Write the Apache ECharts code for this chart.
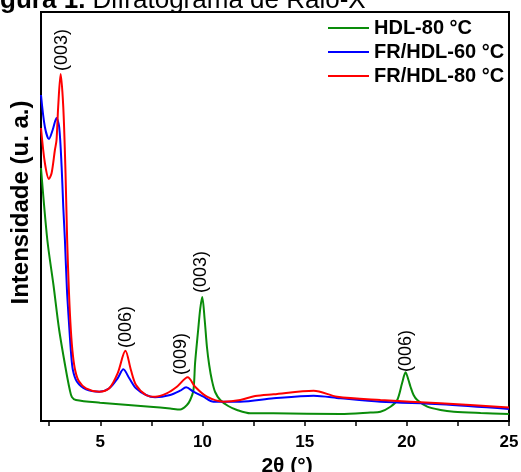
<!DOCTYPE html>
<html>
<head>
<meta charset="utf-8">
<script src="https://cdn.jsdelivr.net/npm/echarts@6/dist/echarts.min.js"></script>
<style>
html,body{margin:0;padding:0;background:#fff;}
#chart{width:521px;height:472px;}
</style>
</head>
<body>
<div id="chart"></div>
<script>
// ---- data ----
const seriesNames = ['HDL-80 °C', 'FR/HDL-60 °C', 'FR/HDL-80 °C'];

const hdl80X = [2.10, 2.41, 2.71, 2.99, 3.32, 3.51, 3.61, 3.81, 4.99, 7.44, 8.42, 8.91, 9.24, 9.40, 9.56, 9.64, 9.79, 9.89, 9.99, 10.11, 10.22, 10.33, 10.46, 10.62, 10.87, 11.26, 11.69, 12.34, 13.47, 16.75, 18.22, 18.71, 19.20, 19.53, 19.77, 19.94, 20.08, 20.18, 20.33, 20.51, 21.00, 21.65, 22.30, 23.61, 25.00];
const hdl80Y = [253, 181, 136, 91, 51, 31, 24, 21, 18.3, 14.3, 12.5, 11.5, 16, 21, 31, 58, 91, 112, 124, 101, 74, 56, 41, 29, 21, 15, 11, 7.7, 7.7, 7, 8.5, 9.3, 14.3, 21, 38, 48.7, 41, 34.3, 26, 21, 14.3, 11, 9.3, 8, 7];

const fr60X = [2.10, 2.29, 2.49, 2.67, 2.86, 2.99, 3.11, 3.19, 3.27, 3.37, 3.46, 3.57, 3.66, 3.86, 4.30, 4.95, 5.44, 5.85, 6.13, 6.42, 6.75, 7.24, 7.68, 8.42, 8.91, 9.20, 9.56, 10.05, 10.54, 11.85, 13.48, 15.44, 16.75, 18.71, 21.65, 25.00];
const fr60Y = [326, 294, 282, 291, 303, 294, 254, 214, 181, 131, 101, 68, 51, 39.3, 31.7, 29.3, 32.7, 42.7, 51.7, 42.7, 32.7, 26, 23.7, 26, 30.3, 33.7, 29.3, 24.3, 19.3, 19.3, 22.7, 25.3, 22.7, 19.3, 16.7, 12];

const fr80X = [2.10, 2.29, 2.49, 2.62, 2.78, 2.86, 2.94, 3.06, 3.19, 3.30, 3.38, 3.47, 3.56, 3.66, 3.78, 3.95, 4.30, 4.95, 5.44, 5.85, 6.23, 6.50, 6.75, 7.24, 7.68, 8.25, 8.75, 9.28, 9.64, 10.22, 11.03, 11.85, 12.58, 13.48, 15.44, 16.59, 18.71, 21.65, 25.00];
const fr80Y = [293, 258, 242, 248, 271, 281, 314, 347, 314, 248, 181, 128, 91, 66, 50, 40, 32.7, 29.3, 32.7, 47.7, 70.3, 51, 36, 26, 24.3, 27.7, 34.3, 43.7, 34.3, 24.3, 19.3, 21, 25, 26.7, 30.3, 24.3, 21, 17.7, 13.5];

const peakLabels = ['(003)', '(006)', '(009)', '(003)', '(006)'];
const peakLabelX = [3.11, 6.25, 8.96, 9.91, 19.94];
const peakLabelY = [371, 94, 67, 149, 70];

const xTickValues = [2.5, 5, 7.5, 10, 12.5, 15, 17.5, 20, 22.5, 25];
const xLabelValues = [5, 10, 15, 20, 25];

const colors = ['#0a8c0a', '#0000ff', '#ff0000'];

function pairs(xs, ys) { return xs.map((x, i) => [x, ys[i]]); }

const FONT = 'Liberation Sans, Arial, Helvetica, sans-serif';

const chart = echarts.init(document.getElementById('chart'), null, {renderer: 'canvas'});

const lineSeries = [[hdl80X, hdl80Y], [fr60X, fr60Y], [fr80X, fr80Y]].map((d, i) => ({
  name: seriesNames[i],
  type: 'line',
  data: pairs(d[0], d[1]),
  showSymbol: false,
  symbol: 'none',
  smooth: 0.3,
  clip: true,
  lineStyle: {color: colors[i], width: 2},
  itemStyle: {color: colors[i]},
  z: 2 + i
}));

const labelSeries = {
  type: 'custom',
  name: 'peaks',
  silent: true,
  z: 10,
  data: peakLabels.map((t, i) => [peakLabelX[i], peakLabelY[i], i]),
  renderItem: function (params, api) {
    const p = api.coord([api.value(0), api.value(1)]);
    return {
      type: 'text',
      x: p[0],
      y: p[1],
      rotation: Math.PI / 2,
      style: {
        text: peakLabels[api.value(2)],
        fill: '#000',
        font: '18px ' + FONT,
        align: 'center',
        verticalAlign: 'middle'
      }
    };
  }
};

const option = {
  animation: false,
  backgroundColor: '#fff',
  title: {
    text: '{b|Figura 1.} Difratograma de Raio-X',
    left: -23,
    top: -12,
    padding: 0,
    textStyle: {
      fontFamily: FONT, fontSize: 26, fontWeight: 'normal', color: '#000',
      rich: {b: {fontFamily: FONT, fontSize: 26, fontWeight: 'bold', color: '#000'}}
    }
  },
  legend: {
    left: 328,
    top: 18,
    orient: 'vertical',
    itemWidth: 41,
    itemHeight: 2,
    itemGap: 4,
    icon: 'rect',
    padding: 0,
    data: seriesNames,
    textStyle: {fontFamily: FONT, fontSize: 20, fontWeight: 'bold', color: '#000'}
  },
  grid: {
    left: 41, right: 12, top: 12, bottom: 51,
    containLabel: false,
    outerBoundsMode: 'none',
    show: true, borderColor: '#000', borderWidth: 2, backgroundColor: 'transparent'
  },
  xAxis: {
    type: 'value',
    min: 2.1,
    max: 25,
    name: '2θ (°)',
    nameLocation: 'middle',
    nameGap: 32,
    nameTextStyle: {fontFamily: FONT, fontSize: 21, fontWeight: 'bold', color: '#000', padding: [0, 0, 0, 24]},
    axisLine: {show: true, onZero: false, lineStyle: {color: '#000', width: 2}},
    axisTick: {show: true, inside: false, length: 5, customValues: xTickValues, lineStyle: {color: '#000', width: 1.5}},
    axisLabel: {customValues: xLabelValues, fontFamily: FONT, fontSize: 17, fontWeight: 'bold', color: '#000', margin: 13},
    splitLine: {show: false}
  },
  yAxis: {
    type: 'value',
    min: 0,
    max: 409,
    name: 'Intensidade (u. a.)',
    nameLocation: 'middle',
    nameGap: 8,
    nameTextStyle: {fontFamily: FONT, fontSize: 24, fontWeight: 'bold', color: '#000', padding: [0, 0, 0, 28]},
    axisLine: {show: true, lineStyle: {color: '#000', width: 2}},
    axisTick: {show: false},
    axisLabel: {show: false},
    splitLine: {show: false}
  },
  series: lineSeries.concat([labelSeries])
};
chart.setOption(option);
</script>
</body>
</html>
